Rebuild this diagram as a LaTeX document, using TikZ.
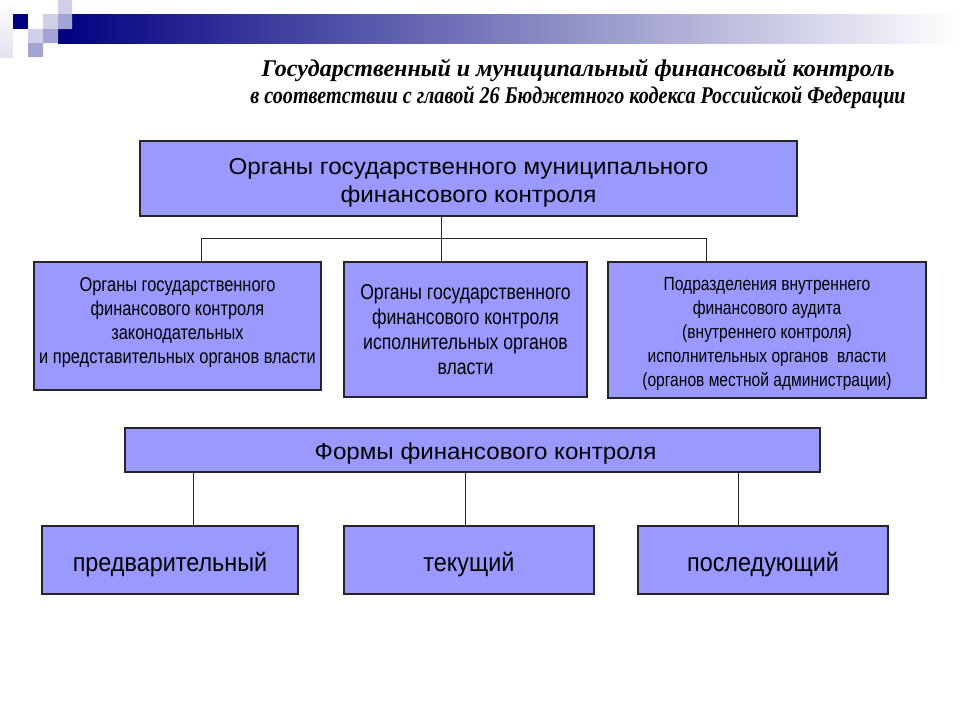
\documentclass[tikz,border=0pt]{standalone}
\usepackage{fontspec}
\setmainfont{Liberation Sans}
\newfontfamily\titlefont{Liberation Serif}
\newfontfamily\titlenarrow[FakeStretch=0.84]{Liberation Serif}
\newfontfamily\narrowfont[FakeStretch=0.82]{Liberation Sans}
\newfontfamily\plainfont[FakeStretch=0.9]{Liberation Sans}
\newfontfamily\widefont[FakeStretch=1.05]{Liberation Sans}
\definecolor{box lilac}{HTML}{9999FF}
\definecolor{deco navy}{HTML}{000080}
\definecolor{deco mid}{HTML}{A4A4D4}
\definecolor{deco light}{HTML}{CFCFE8}

\begin{document}
\begin{tikzpicture}[x=1pt, y=-1pt,
    box/.style={draw=black!85, line width=1.2pt, fill=box lilac, inner sep=0pt,
      align=center, font=\narrowfont\fontsize{20}{24}\selectfont},
    link/.style={draw=black!85, line width=0.8pt}]
  \useasboundingbox (0,0) rectangle (960,720);
  % header ribbon
  \shade[left color=deco navy, right color=white] (58,14) rectangle (960,43);
  \shade[top color=white, bottom color=deco light!60] (0,0) rectangle (13,57);
  \fill[deco navy] (13,14) rectangle (28,29);
  \fill[deco light] (58,0) rectangle (72,14) (43,14) rectangle (58,29)
    (28,29) rectangle (43,43);
  \fill[deco mid] (58,14) rectangle (72,29) (43,29) rectangle (58,43)
    (28,43) rectangle (43,57);
  % title
  \node[align=center, font=\bfseries\itshape\fontsize{24}{27}\selectfont]
    (title) at (578,84)
    {\titlefont Государственный и муниципальный финансовый контроль\\
    \titlenarrow в соответствии с главой 26 Бюджетного кодекса Российской Федерации};
  % bodies of control
  \node[box, minimum width=657pt, minimum height=75pt,
    font=\widefont\fontsize{23}{28}\selectfont] (bodies) at (468.5,178.5)
    {\rule{0pt}{25pt}Органы государственного муниципального\\финансового контроля};
  \node[box, minimum width=287pt, minimum height=128pt] (legis) at (177.5,326)
    {Органы государственного\\финансового контроля\\законодательных\\и представительных органов власти\rule[-10pt]{0pt}{0pt}};
  \node[box, minimum width=243pt, minimum height=135pt,
    font=\narrowfont\fontsize{21.5}{25}\selectfont] (exec) at (465.5,329.5)
    {Органы государственного\\финансового контроля\\исполнительных органов\\власти};
  \node[box, minimum width=318pt, minimum height=136pt,
    font=\narrowfont\fontsize{19}{24}\selectfont] (audit) at (767,330)
    {\rule{0pt}{20pt}Подразделения внутреннего\\финансового аудита\\(внутреннего контроля)\\исполнительных органов~ власти\\(органов местной администрации)};
  \coordinate (hub) at (441,238);
  \coordinate (hub L) at (201,238);
  \coordinate (hub R) at (706,238);
  \draw[link] (hub |- bodies.south) -- (hub)
    (hub L) -- (hub R)
    (hub L) -- (hub L |- legis.north)
    (hub) -- (hub |- exec.north)
    (hub R) -- (hub R |- audit.north);
  % forms of control
  \node[box, minimum width=695pt, minimum height=44pt,
    font=\widefont\fontsize{23}{24}\selectfont] (forms) at (472.5,450)
    {\hspace*{26pt}\raisebox{-4pt}[\height][\depth]{Формы финансового контроля}};
  \tikzset{formbox/.style={box, minimum width=250pt, minimum height=68pt,
    font=\plainfont\fontsize{26}{30}\selectfont}}
  \node[formbox, minimum width=256pt] (prelim) at (170,560)
    {\raisebox{-5pt}[\height][\depth]{предварительный}};
  \node[formbox] (current) at (469,560)
    {\raisebox{-5pt}[\height][\depth]{текущий}};
  \node[formbox] (post) at (763,560)
    {\raisebox{-5pt}[\height][\depth]{последующий}};
  \foreach \x/\tgt in {193/prelim, 465/current, 738/post}
    \draw[link] (\x,0 |- forms.south) -- (\x,0 |- \tgt.north);
\end{tikzpicture}
\end{document}
